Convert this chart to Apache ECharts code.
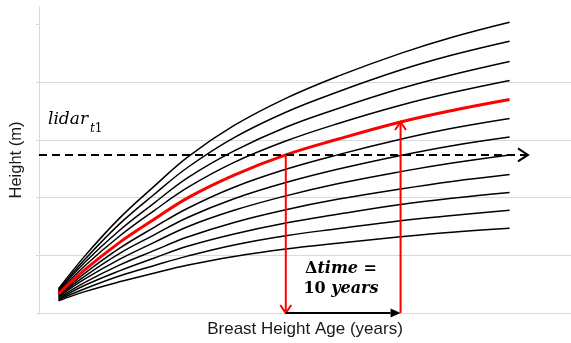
<!DOCTYPE html>
<html><head><meta charset="utf-8">
<script src="https://cdn.jsdelivr.net/npm/echarts@6/dist/echarts.min.js"></script>
<style>html,body{margin:0;padding:0;background:#fff}#c{width:571px;height:343px}</style>
</head><body><div id="c"></div>
<script>
// Breast height age (years) at which each curve is sampled
const ages = [1.7, 4, 7, 10, 13, 17, 21.5, 26, 31.5, 36, 41];
// Height (m) of each black site curve, top to bottom
const curve1  = [4.2, 9.9, 16.4, 21.9, 27.1, 32.5, 37.2, 41.0, 45.0, 47.8, 50.4];
const curve2  = [4.0, 9.3, 15.4, 20.5, 25.3, 30.4, 34.8, 38.3, 42.1, 44.7, 47.1];
const curve3  = [3.8, 8.8, 14.3, 19.0, 23.5, 28.1, 32.2, 35.4, 38.9, 41.3, 43.6];
const curve4  = [3.6, 8.2, 13.3, 17.7, 21.8, 26.1, 29.8, 32.8, 36.0, 38.2, 40.3];
const curve6  = [3.1, 6.9, 11.2, 14.8, 18.2, 21.8, 24.9, 27.4, 30.1, 32.0, 33.7];
const curve7  = [3.0, 6.4, 10.3, 13.5, 16.6, 19.8, 22.6, 24.9, 27.3, 29.0, 30.5];
const curve8  = [2.8, 5.9, 9.3, 12.2, 15.0, 17.8, 20.3, 22.4, 24.5, 26.0, 27.4];
const curve9  = [2.6, 5.3, 8.3, 10.8, 13.2, 15.7, 17.9, 19.7, 21.5, 22.8, 24.0];
const curve10 = [2.4, 4.8, 7.3, 9.5, 11.6, 13.7, 15.6, 17.1, 18.8, 19.9, 20.9];
const curve11 = [2.3, 4.2, 6.4, 8.2, 9.9, 11.8, 13.4, 14.6, 16.0, 16.9, 17.8];
const curve12 = [2.1, 3.7, 5.4, 6.9, 8.3, 9.8, 11.1, 12.1, 13.2, 14.0, 14.7];
// Highlighted (red) curve
const redCurve = [3.3, 7.5, 12.2, 16.2, 20.0, 23.9, 27.4, 30.1, 33.1, 35.1, 37.0];

const blackCurves = [curve1, curve2, curve3, curve4, curve6, curve7, curve8, curve9, curve10, curve11, curve12];

// Annotation values
const lidarHeight = 27.4;
const lidarAgeEnd = 42.6;
const ageT1 = 21.5;
const ageT2 = 31.5;
const heightT2 = 33.1;
const yTicks = [0, 10, 20, 30, 40, 50];

// [x1, y1, x2, y2, kind]  kind: 0 dashed black, 1 red, 2 solid black filled head
const arrows = [
  [0, lidarHeight, lidarAgeEnd, lidarHeight, 0],
  [ageT1, lidarHeight, ageT1, 0, 1],
  [ageT2, 0, ageT2, heightT2, 1],
  [ageT1, 0, ageT2, 0, 2]
];

function toPairs(vals) { return ages.map((a, i) => [a, vals[i]]); }

function renderArrow(params, api) {
  const a = api.coord([api.value(0), api.value(1)]);
  const b = api.coord([api.value(2), api.value(3)]);
  const kind = api.value(4);
  const dx = b[0] - a[0], dy = b[1] - a[1];
  const L = Math.hypot(dx, dy);
  const ux = dx / L, uy = dy / L, px = -uy, py = ux;
  const color = kind === 1 ? '#ff0000' : '#000000';
  const children = [];
  if (kind === 2) {
    const hl = 10, hw = 4.5;
    const base = [b[0] - ux * hl, b[1] - uy * hl];
    children.push({type: 'line', shape: {x1: a[0], y1: a[1], x2: base[0], y2: base[1]},
      style: {stroke: color, lineWidth: 2}});
    children.push({type: 'polygon', shape: {points: [b, [base[0] + px * hw, base[1] + py * hw], [base[0] - px * hw, base[1] - py * hw]]},
      style: {fill: color}});
  } else {
    const hl = kind === 0 ? 10 : 8, hw = kind === 0 ? 6.5 : 5.5;
    const base = [b[0] - ux * hl, b[1] - uy * hl];
    children.push({type: 'line', shape: {x1: a[0], y1: a[1], x2: b[0], y2: b[1]},
      style: {stroke: color, lineWidth: 2, lineDash: kind === 0 ? [8, 5] : null}});
    children.push({type: 'polyline', shape: {points: [[base[0] + px * hw, base[1] + py * hw], b, [base[0] - px * hw, base[1] - py * hw]]},
      style: {stroke: color, lineWidth: 2, fill: null}});
  }
  return {type: 'group', children};
}

const series = blackCurves.map(c => ({
  type: 'line', data: toPairs(c), symbol: 'none', smooth: 0.4,
  lineStyle: {color: '#000', width: 1.5}, z: 2, silent: true
}));
series.push({
  type: 'line', data: toPairs(redCurve), symbol: 'none', smooth: 0.4,
  lineStyle: {color: '#ff0000', width: 3}, z: 3, silent: true
});
series.push({
  type: 'custom', renderItem: renderArrow, data: arrows,
  encode: {x: [0, 2], y: [1, 3]}, z: 5, silent: true
});

const chart = echarts.init(document.getElementById('c'), null, {renderer: 'canvas'});
chart.setOption({
  animation: false,
  backgroundColor: '#ffffff',
  grid: {left: 38, right: 0, top: 7, bottom: 30},
  xAxis: {
    type: 'value', min: 0, max: 46.35,
    name: 'Breast Height Age (years)', nameLocation: 'middle', nameGap: 8,
    nameTextStyle: {fontFamily: 'Liberation Sans', fontSize: 17, color: '#1a1a1a', verticalAlign: 'top'},
    axisLine: {show: true, lineStyle: {color: '#d9d9d9', width: 1}},
    axisTick: {show: false}, axisLabel: {show: false}, splitLine: {show: false}
  },
  yAxis: {
    type: 'value', min: 0, max: 53.03, interval: 10,
    name: 'Height (m)', nameLocation: 'middle', nameGap: 14, nameRotate: 90,
    nameTextStyle: {fontFamily: 'Liberation Sans', fontSize: 16.5, color: '#1a1a1a'},
    axisLine: {show: true, lineStyle: {color: '#d9d9d9', width: 1}},
    axisTick: {show: true, length: 3, customValues: yTicks, lineStyle: {color: '#d9d9d9'}},
    axisLabel: {show: false},
    splitLine: {show: true, showMaxLine: false, lineStyle: {color: '#d9d9d9', width: 1}}
  },
  graphic: [
    {type: 'text', left: 48, top: 111, z: 10,
      style: {text: 'lidar', fontFamily: 'DejaVu Serif', fontStyle: 'italic', fontSize: 17, fill: '#000'}},
    {type: 'text', left: 90, top: 123, z: 10,
      style: {text: '{t|t}{n|1}', rich: {
        t: {fontFamily: 'DejaVu Serif', fontStyle: 'italic', fontSize: 12, fill: '#000'},
        n: {fontFamily: 'DejaVu Serif', fontSize: 12, fill: '#000'}}}},
    {type: 'text', x: 341, y: 259, z: 10,
      style: {text: '{u|Δ}{i|time}{u| =}\n{u|10 }{i|years}', align: 'center', verticalAlign: 'top',
        rich: {
          u: {fontFamily: 'DejaVu Serif', fontWeight: 'bold', fontSize: 16, lineHeight: 20, fill: '#000'},
          i: {fontFamily: 'DejaVu Serif', fontWeight: 'bold', fontStyle: 'italic', fontSize: 16, lineHeight: 20, fill: '#000'}
        }}}
  ],
  series
});
</script></body></html>
